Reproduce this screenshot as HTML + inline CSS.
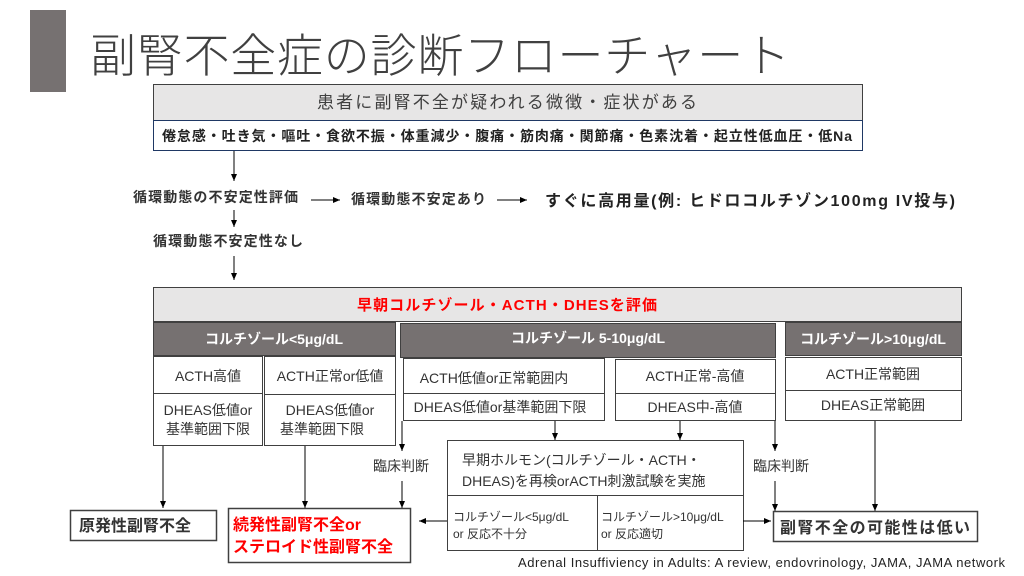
<!DOCTYPE html>
<html><head><meta charset="utf-8"><style>
html,body{margin:0;padding:0;background:#fff;}
svg{display:block;font-family:"Liberation Sans","Noto Sans CJK JP",sans-serif;}
</style></head><body>
<svg width="1024" height="576" viewBox="0 0 1024 576" xmlns="http://www.w3.org/2000/svg">
<defs><marker id="a" markerWidth="8" markerHeight="8" refX="7" refY="4" orient="auto" markerUnits="userSpaceOnUse"><path d="M0,1 L7,4 L0,7 z" fill="#000"/></marker></defs>
<rect x="30" y="10" width="36" height="82" fill="#767171"/>
<text x="90" y="72" font-size="46" fill="#404040" textLength="700" font-family="Noto Sans CJK JP, sans-serif" font-weight="300">副腎不全症の診断フローチャート</text>

<rect x="153.5" y="84.5" width="709" height="36" fill="#e7e6e6" stroke="#404040"/>
<text x="507" y="108" font-size="17" fill="#404040" text-anchor="middle" textLength="380">患者に副腎不全が疑われる微徴・症状がある</text>
<rect x="153.5" y="120.5" width="709" height="30" fill="#fff" stroke="#1f3864"/>
<text x="507" y="141" font-size="14" font-weight="bold" fill="#222" text-anchor="middle" textLength="690">倦怠感・吐き気・嘔吐・食欲不振・体重減少・腹痛・筋肉痛・関節痛・色素沈着・起立性低血圧・低Na</text>

<g stroke="#000" stroke-width="1" fill="none" marker-end="url(#a)">
<line x1="234" y1="151" x2="234" y2="181"/>
<line x1="311" y1="200" x2="340" y2="200"/>
<line x1="497" y1="200" x2="527" y2="200"/>
<line x1="234" y1="210" x2="234" y2="227"/>
<line x1="234" y1="256" x2="234" y2="280"/>
</g>
<g font-size="14" font-weight="bold" fill="#333">
<text x="133" y="202" textLength="165">循環動態の不安定性評価</text>
<text x="351" y="204" textLength="135">循環動態不安定あり</text>
<text x="153" y="246" textLength="150">循環動態不安定性なし</text>
</g>
<text x="545" y="206" font-size="16" font-weight="bold" fill="#222" textLength="410">すぐに高用量(例: ヒドロコルチゾン100mg IV投与)</text>

<rect x="153.5" y="287.5" width="808" height="34" fill="#e7e6e6" stroke="#404040"/>
<text x="507" y="310" font-size="15" font-weight="bold" fill="#ff0000" text-anchor="middle" textLength="300">早朝コルチゾール・ACTH・DHESを評価</text>

<g fill="#767171" stroke="#404040">
<rect x="153.5" y="322.5" width="242" height="33"/>
<rect x="400.5" y="323.5" width="375" height="34"/>
<rect x="785.5" y="322.5" width="176" height="33"/>
</g>
<g font-size="14" font-weight="bold" fill="#fff" text-anchor="middle">
<text x="274" y="344">コルチゾール&lt;5μg/dL</text>
<text x="588" y="343">コルチゾール 5-10μg/dL</text>
<text x="873" y="344">コルチゾール&gt;10μg/dL</text>
</g>

<g fill="#fff" stroke="#404040">
<rect x="153.5" y="356.5" width="109" height="37"/>
<rect x="153.5" y="393.5" width="109" height="52"/>
<rect x="264.5" y="356.5" width="131" height="38"/>
<rect x="264.5" y="394.5" width="131" height="51"/>
<rect x="403.5" y="358.5" width="201" height="35"/>
<rect x="403.5" y="393.5" width="201" height="27"/>
<rect x="615.5" y="359.5" width="160" height="34"/>
<rect x="615.5" y="393.5" width="160" height="27"/>
<rect x="785.5" y="357.5" width="176" height="33"/>
<rect x="785.5" y="390.5" width="176" height="30"/>
<rect x="447.5" y="440.5" width="296" height="55"/>
<rect x="447.5" y="495.5" width="150" height="55"/>
<rect x="597.5" y="495.5" width="146" height="55"/>
</g>
<g font-size="14" fill="#333" text-anchor="middle">
<text x="208" y="381">ACTH高値</text>
<text x="330" y="381">ACTH正常or低値</text>
<text x="208" y="415">DHEAS低値or</text>
<text x="208" y="434">基準範囲下限</text>
<text x="330" y="415">DHEAS低値or</text>
<text x="322" y="434">基準範囲下限</text>
<text x="494" y="383">ACTH低値or正常範囲内</text>
<text x="500" y="412">DHEAS低値or基準範囲下限</text>
<text x="695" y="381">ACTH正常-高値</text>
<text x="695" y="412">DHEAS中-高値</text>
<text x="873" y="379">ACTH正常範囲</text>
<text x="873" y="410">DHEAS正常範囲</text>
<text x="401" y="471">臨床判断</text>
<text x="781" y="471">臨床判断</text>
</g>
<g font-size="14" fill="#333">
<text x="462" y="465">早期ホルモン(コルチゾール・ACTH・</text>
<text x="462" y="486">DHEAS)を再検orACTH刺激試験を実施</text>
</g>
<g font-size="12" fill="#333">
<text x="453" y="521">コルチゾール&lt;5μg/dL</text>
<text x="453" y="538">or 反応不十分</text>
<text x="601" y="521">コルチゾール&gt;10μg/dL</text>
<text x="601" y="538">or 反応適切</text>
</g>

<g stroke="#000" stroke-width="1" fill="none" marker-end="url(#a)">
<line x1="163" y1="446" x2="163" y2="508"/>
<line x1="305" y1="446" x2="305" y2="508"/>
<line x1="402" y1="421" x2="402" y2="451"/>
<line x1="402" y1="481" x2="402" y2="508"/>
<line x1="555" y1="421" x2="555" y2="440"/>
<line x1="680" y1="421" x2="680" y2="440"/>
<line x1="775" y1="421" x2="775" y2="451"/>
<line x1="775" y1="481" x2="775" y2="511"/>
<line x1="875" y1="421" x2="875" y2="511"/>
<line x1="447" y1="521" x2="419" y2="521"/>
<line x1="743" y1="521" x2="771" y2="521"/>
</g>

<g stroke="#404040" fill="#fff" stroke-width="1.5">
<rect x="70.5" y="510.5" width="146" height="30"/>
<rect x="228.5" y="508.5" width="182" height="54"/>
<rect x="773.5" y="511.5" width="204" height="30"/>
</g>
<text x="79" y="531" font-size="16" font-weight="bold" fill="#333">原発性副腎不全</text>
<text x="233" y="530" font-size="16" font-weight="bold" fill="#ff0000">続発性副腎不全or</text>
<text x="233" y="552" font-size="16" font-weight="bold" fill="#ff0000">ステロイド性副腎不全</text>
<text x="780" y="533" font-size="16" font-weight="bold" fill="#333" textLength="190">副腎不全の可能性は低い</text>
<text x="1005" y="567" font-size="13" fill="#222" text-anchor="end" textLength="487">Adrenal Insuffiviency in Adults: A review, endovrinology, JAMA, JAMA network</text>
</svg>
</body></html>
